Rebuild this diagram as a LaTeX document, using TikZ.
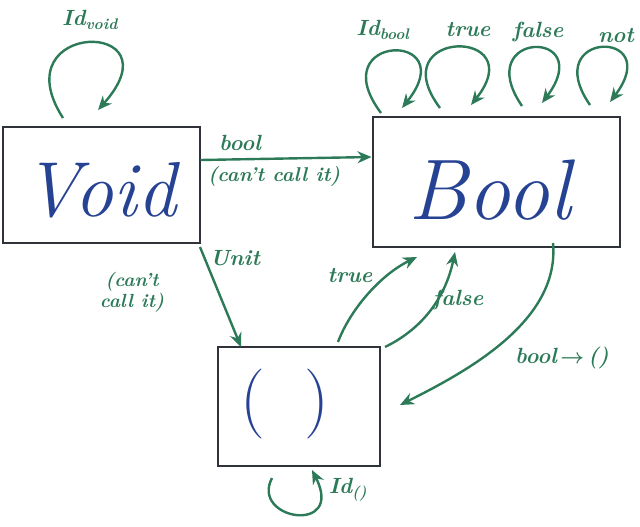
\documentclass[tikz,border=0pt]{standalone}
\usetikzlibrary{arrows.meta}
\usepackage{amsmath}
\definecolor{pen}{RGB}{44,122,88}
\definecolor{ink}{RGB}{38,66,146}
\definecolor{boxc}{RGB}{48,52,58}
\tikzset{
  obj/.style={draw=boxc, line width=2pt, inner sep=0pt},
  big/.style={text=ink, font=\fontsize{78}{78}\selectfont\itshape},
  arr/.style={draw=pen, line width=2.4pt, -{Stealth[length=14pt,width=12pt]}},
  lbl/.style={text=pen, font=\fontsize{22}{23}\selectfont\itshape\bfseries, inner sep=1pt},
  notelbl/.style={text=pen, font=\fontsize{19}{21}\selectfont\bfseries\itshape, inner sep=1pt, align=center},
}
\begin{document}
\begin{tikzpicture}[x=1pt,y=-1pt]
\useasboundingbox (0,0) rectangle (640,527);
% boxes
\node[obj, minimum width=197pt, minimum height=116pt] (void) at (101,185) {};
\node[obj, minimum width=247pt, minimum height=130pt] (bool) at (496,182) {};
\node[obj, minimum width=162pt, minimum height=119pt] (unit) at (299,406) {};
\node[big] (tvoid) at (100,190) {Void};
\node[big, font=\fontsize{86}{86}\selectfont\itshape] (tbool) at (490,190) {Bool};
\node[big, font=\fontsize{70}{70}\selectfont] (tunit) at (285,404) {(\hspace{40pt})};
% self loop on Void
\coordinate (v1s) at (63,118); \coordinate (v1e) at (98,110);
\draw[arr] (v1s) .. controls (0,20) and (180,18) .. (v1e);
\node[lbl] (lvoid) at (90,20) {Id\textsubscript{void}};
% self loops on Bool
\coordinate (b1s) at (381,113); \coordinate (b1e) at (402,108);
\coordinate (b2s) at (440,108); \coordinate (b2e) at (471,105);
\coordinate (b3s) at (522,106); \coordinate (b3e) at (542,103);
\coordinate (b4s) at (590,105); \coordinate (b4e) at (610,102);
\draw[arr] (b1s) .. controls (321,33) and (464,30) .. (b1e);
\draw[arr] (b2s) .. controls (380,28) and (533,27) .. (b2e);
\draw[arr] (b3s) .. controls (470,30) and (598,28) .. (b3e);
\draw[arr] (b4s) .. controls (538,30) and (666,28) .. (b4e);
\node[lbl] (lid) at (383,30) {Id\textsubscript{bool}};
\node[lbl] (ltrue) at (468,30) {true};
\node[lbl] (lfalse) at (538,32) {false};
\node[lbl] (lnot) at (616,36) {not};
% arrows between objects
\draw[arr] (void.east |- 0,160) -- (bool.west |- 0,157);
\node[lbl] (lbool) at (240,143) {bool};
\node[notelbl, font=\fontsize{20}{21}\selectfont\bfseries\itshape] (lcc1) at (274,176) {(can't call it)};
\draw[arr] (200,247) -- (241,347);
\node[lbl] (lunit) at (235,258) {Unit};
\node[notelbl] (lcc2) at (132,292) {(can't\\ call it)};
\draw[arr] (338,342) .. controls (350,310) and (380,275) .. (417,257);
\node[lbl] (ltrue2) at (350,276) {true};
\draw[arr] (385,347) .. controls (420,330) and (445,300) .. (455,252);
\node[lbl] (lfalse2) at (458,300) {false};
\draw[arr] (553,243) .. controls (560,320) and (470,370) .. (400,405);
\node[lbl] (lbu) at (562,358) {bool\,$\boldsymbol{\rightarrow}$\,()};
% loop on unit
\coordinate (u1s) at (272,478); \coordinate (u1e) at (312,470);
\draw[arr] (u1s) .. controls (250,520) and (345,535) .. (u1e);
\node[lbl] (lidu) at (348,490) {Id\textsubscript{()}};
\end{tikzpicture}
\end{document}
